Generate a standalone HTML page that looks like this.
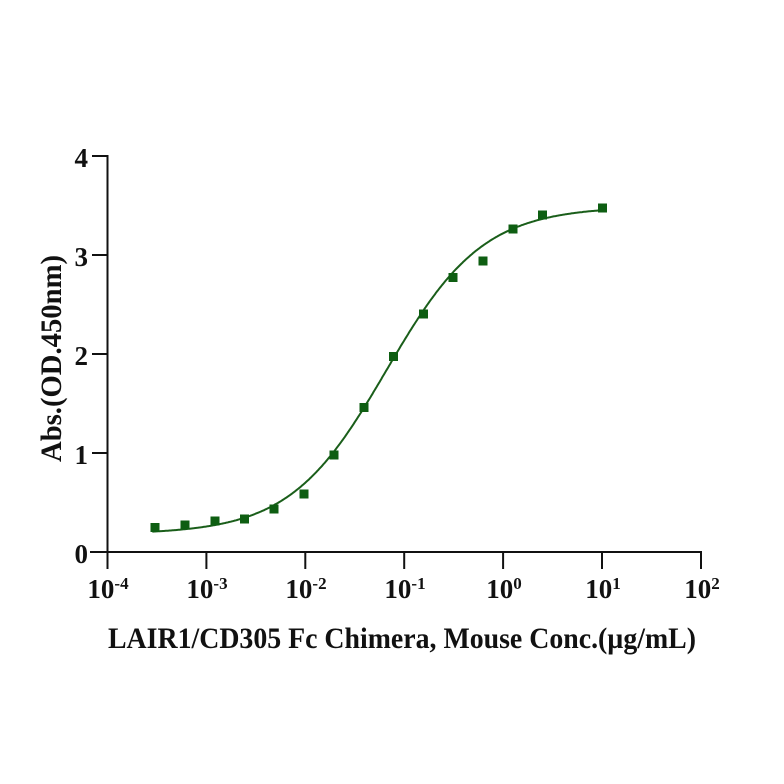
<!DOCTYPE html>
<html>
<head>
<meta charset="utf-8">
<style>
html,body{margin:0;padding:0;background:#fff;}
svg{display:block;}
text{font-family:"Liberation Serif","Times New Roman",serif;font-weight:bold;fill:#111;}
</style>
</head>
<body>
<svg width="784" height="784" viewBox="0 0 784 784" xmlns="http://www.w3.org/2000/svg">
<rect width="784" height="784" fill="#fff"/>
<!-- axes -->
<g stroke="#111" stroke-width="2" fill="none" stroke-linecap="square">
  <line x1="107.5" y1="156" x2="107.5" y2="568"/>
  <line x1="91" y1="552" x2="701" y2="552"/>
  <line x1="93" y1="453" x2="107.5" y2="453"/>
  <line x1="93" y1="354" x2="107.5" y2="354"/>
  <line x1="93" y1="255" x2="107.5" y2="255"/>
  <line x1="93" y1="156" x2="107.5" y2="156"/>
  <line x1="206.4" y1="552" x2="206.4" y2="568"/>
  <line x1="305.3" y1="552" x2="305.3" y2="568"/>
  <line x1="404.2" y1="552" x2="404.2" y2="568"/>
  <line x1="503.1" y1="552" x2="503.1" y2="568"/>
  <line x1="602" y1="552" x2="602" y2="568"/>
  <line x1="701" y1="552" x2="701" y2="568"/>
</g>
<!-- y tick labels -->
<g font-size="27" text-anchor="end">
  <text x="88" y="563">0</text>
  <text x="88" y="464">1</text>
  <text x="88" y="365">2</text>
  <text x="88" y="266">3</text>
  <text x="88" y="167">4</text>
</g>
<!-- x tick labels -->
<g font-size="27" text-anchor="middle">
  <text x="108" y="598">10<tspan font-size="17" dy="-9">-4</tspan></text>
  <text x="207" y="598">10<tspan font-size="17" dy="-9">-3</tspan></text>
  <text x="306" y="598">10<tspan font-size="17" dy="-9">-2</tspan></text>
  <text x="405" y="598">10<tspan font-size="17" dy="-9">-1</tspan></text>
  <text x="504" y="598">10<tspan font-size="17" dy="-9">0</tspan></text>
  <text x="603" y="598">10<tspan font-size="17" dy="-9">1</tspan></text>
  <text x="702" y="598">10<tspan font-size="17" dy="-9">2</tspan></text>
</g>
<!-- axis titles -->
<text x="108" y="648" font-size="30" textLength="588" lengthAdjust="spacingAndGlyphs">LAIR1/CD305 Fc Chimera, Mouse Conc.(µg/mL)</text>
<text transform="translate(61,462) rotate(-90)" x="0" y="0" font-size="30" textLength="207" lengthAdjust="spacingAndGlyphs">Abs.(OD.450nm)</text>
<!-- fitted curve -->
<polyline id="fit" fill="none" stroke="#1a5e1a" stroke-width="2" stroke-linejoin="round" stroke-linecap="round"
  points="153,531.6 155,531.4 176.7,529.8 196.5,527.6 216.3,524.4 236.1,519.7 255.9,512.9 275.6,503.1 295.4,489.4 315.2,471.1 335,447.6 354.8,419.2 374.5,387.1 394.3,353.6 414.1,321.5 433.9,293 453.7,269.5 473.4,251.2 493.2,237.6 513,227.8 532.8,220.9 552.6,216.3 572.4,213 602,210.1 605,209.9"/>
<!-- data points -->
<g fill="#0e5e12">
  <rect x="150.5" y="523" width="9" height="9"/>
  <rect x="180.5" y="520.5" width="9" height="9"/>
  <rect x="210.5" y="516.5" width="9" height="9"/>
  <rect x="240" y="514.5" width="9" height="9"/>
  <rect x="269.5" y="504.5" width="9" height="9"/>
  <rect x="299.5" y="489.5" width="9" height="9"/>
  <rect x="329.5" y="450.5" width="9" height="9"/>
  <rect x="359.5" y="403" width="9" height="9"/>
  <rect x="389" y="352" width="9" height="9"/>
  <rect x="419" y="309.5" width="9" height="9"/>
  <rect x="448.5" y="273" width="9" height="9"/>
  <rect x="478.5" y="256.5" width="9" height="9"/>
  <rect x="508.5" y="224.5" width="9" height="9"/>
  <rect x="538" y="210.5" width="9" height="9"/>
  <rect x="598" y="203.5" width="9" height="9"/>
</g>
</svg>
<script>
(function(){
  var pts=[];
  for(var L=-3.54;L<=1.031;L+=0.01){
    var v=0.18+3.31/(1+Math.pow(10,0.89*(-1.18-L)));
    var px=107.5+(L+4)*98.9, py=552-v*99;
    pts.push(px.toFixed(1)+","+py.toFixed(1));
  }
  document.getElementById("fit").setAttribute("points",pts.join(" "));
})();
</script>
</body>
</html>
